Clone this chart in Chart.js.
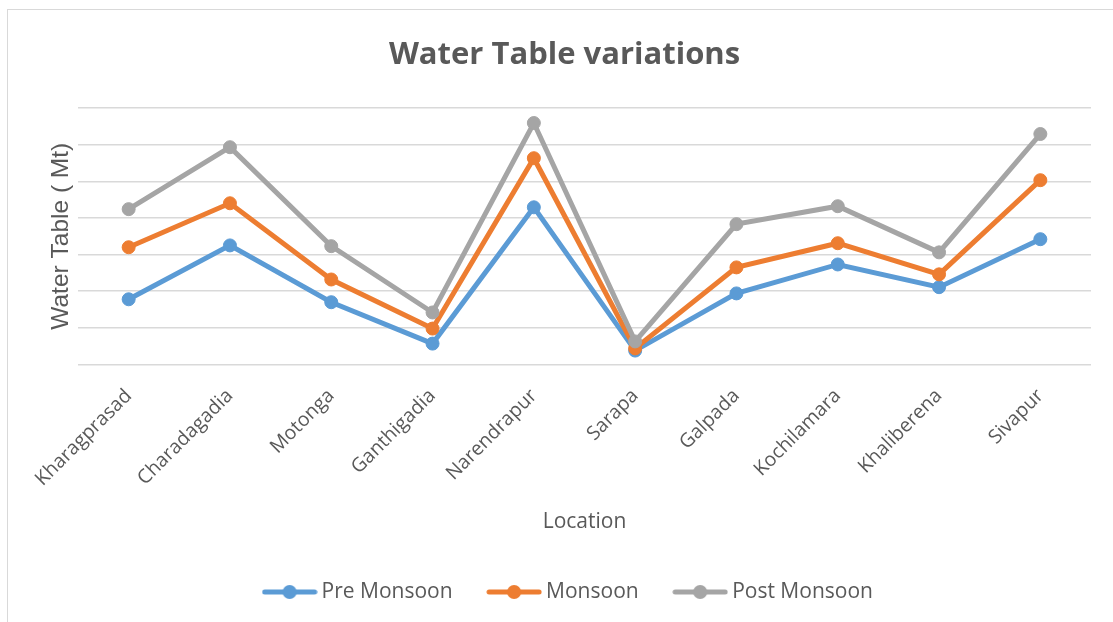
<!DOCTYPE html>
<html>
<head>
<meta charset="utf-8">
<title>Water Table variations</title>
<script src="https://cdn.jsdelivr.net/npm/chart.js@4/dist/chart.umd.min.js"></script>
<style>
  html, body { margin: 0; padding: 0; background: #ffffff; overflow: hidden; }
  #wrap { position: relative; width: 1113px; height: 622px; }
  #frame {
    position: absolute; left: 7px; top: 9px;
    width: 1200px; height: 700px;
    border: 1px solid #d9d9d9;
  }
  #chart { position: absolute; left: 0; top: 0; }
</style>
</head>
<body>
<div id="wrap">
  <div id="frame"></div>
  <canvas id="chart" width="1113" height="622"></canvas>
</div>
<script>
// Data
const locations = ['Kharagprasad', 'Charadagadia', 'Motonga', 'Ganthigadia', 'Narendrapur',
                   'Sarapa', 'Galpada', 'Kochilamara', 'Khaliberena', 'Sivapur'];
const preMonsoon  = [1.78, 3.25, 1.70, 0.57, 4.29, 0.38, 1.94, 2.73, 2.11, 3.42];
const monsoon     = [3.20, 4.40, 2.32, 0.98, 5.63, 0.44, 2.65, 3.31, 2.46, 5.03];
const postMonsoon = [4.24, 5.93, 3.23, 1.42, 6.59, 0.63, 3.83, 4.32, 3.06, 6.29];
const seriesNames = ['Pre Monsoon', 'Monsoon', 'Post Monsoon'];
const seriesColors = ['#5b9bd5', '#ed7d31', '#a5a5a5'];

const textColor = '#595959';
const gridColor = '#d9d9d9';

// Little line-with-dot pictures for the legend
function legendMarker(color) {
  const c = document.createElement('canvas');
  c.width = 56;
  c.height = 16;
  const g = c.getContext('2d');
  g.strokeStyle = color;
  g.lineWidth = 5;
  g.lineCap = 'round';
  g.beginPath();
  g.moveTo(3, 8);
  g.lineTo(53, 8);
  g.stroke();
  g.fillStyle = color;
  g.beginPath();
  g.arc(28, 8, 7, 0, Math.PI * 2);
  g.fill();
  return c;
}
const markers = seriesColors.map(legendMarker);

const allValues = [preMonsoon, monsoon, postMonsoon];
const datasets = allValues.map((vals, i) => ({
  label: seriesNames[i],
  data: vals,
  borderColor: seriesColors[i],
  backgroundColor: seriesColors[i],
  pointBackgroundColor: seriesColors[i],
  pointBorderColor: seriesColors[i],
  borderWidth: 5,
  pointRadius: 6.5,
  pointBorderWidth: 1,
  tension: 0,
  fill: false,
  order: 3 - i // later series drawn on top, like the original
}));

// small nudge so title and legend sit where the original has them
const nudgePlugin = {
  id: 'nudge',
  afterLayout(chart) {
    chart.legend.left += 4;
    chart.legend.right += 4;
    chart.titleBlock.left -= 2;
    chart.titleBlock.right -= 2;
  }
};

const chartConfig = {
  type: 'line',
  data: { labels: locations, datasets: datasets },
  plugins: [nudgePlugin],
  options: {
    responsive: false,
    animation: false,
    layout: { padding: { left: 42, right: 22, top: 0, bottom: 9.5 } },
    plugins: {
      title: {
        display: true,
        text: 'Water Table variations',
        color: textColor,
        font: { family: 'Open Sans', size: 31, weight: 'bold' },
        padding: { top: 37, bottom: 33.8 }
      },
      legend: {
        position: 'bottom',
        labels: {
          color: textColor,
          font: { family: 'Open Sans', size: 21 },
          usePointStyle: true,
          pointStyleWidth: 43,
          padding: 40,
          generateLabels: (chart) => {
            const items = Chart.defaults.plugins.legend.labels.generateLabels(chart);
            items.forEach(it => { it.pointStyle = markers[it.datasetIndex]; });
            items.sort((a, b) => a.datasetIndex - b.datasetIndex);
            return items;
          }
        }
      },
      tooltip: { enabled: false }
    },
    scales: {
      x: {
        offset: true,
        grid: { display: false, drawTicks: false },
        border: { display: false },
        ticks: {
          color: textColor,
          font: { family: 'Open Sans', size: 19.5 },
          minRotation: 45,
          maxRotation: 45,
          padding: 20
        },
        title: {
          display: true,
          text: 'Location',
          color: textColor,
          font: { family: 'Open Sans', size: 21 },
          padding: { top: 0, bottom: 6.4 }
        },
        afterFit: (scale) => { scale.height = 177; }
      },
      y: {
        min: 0,
        max: 7,
        ticks: { display: false, stepSize: 1 },
        grid: { color: gridColor, lineWidth: 1.5, drawTicks: false },
        border: { display: false },
        title: {
          display: true,
          text: 'Water Table ( Mt)',
          color: textColor,
          font: { family: 'Liberation Sans', size: 24.5 },
          padding: { top: 4.5, bottom: 0 }
        },
        afterFit: (scale) => { scale.width = 36; }
      }
    }
  }
};

const chartInstance = new Chart(document.getElementById('chart'), chartConfig);
</script>
</body>
</html>
